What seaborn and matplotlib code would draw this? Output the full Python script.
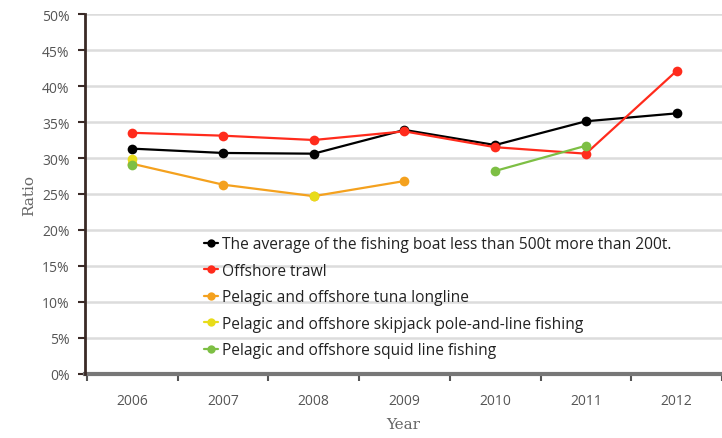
import numpy as np
import pandas as pd
import matplotlib
matplotlib.use('Agg')
import matplotlib.pyplot as plt
from matplotlib.lines import Line2D
from matplotlib.ticker import FuncFormatter, FixedLocator
import seaborn as sns

# -----------------------------------------------------------
# Data
# -----------------------------------------------------------
years = ['2006', '2007', '2008', '2009', '2010', '2011', '2012']

average_200_500t = [31.3, 30.7, 30.6, 33.9, 31.8, 35.1, 36.2]
offshore_trawl = [33.5, 33.1, 32.5, 33.7, 31.5, 30.6, 42.1]
tuna_longline = [29.2, 26.3, 24.7, 26.8, np.nan, np.nan, np.nan]
skipjack_pole_line = [29.9, np.nan, 24.7, np.nan, np.nan, np.nan, np.nan]
squid_line = [29.0, np.nan, np.nan, np.nan, 28.2, 31.7, np.nan]

series_names = [
    'The average of the fishing boat less than 500t more than 200t.',
    'Offshore trawl',
    'Pelagic and offshore tuna longline',
    'Pelagic and offshore skipjack pole-and-line fishing',
    'Pelagic and offshore squid line fishing',
]
series_values = [average_200_500t, offshore_trawl, tuna_longline,
                 skipjack_pole_line, squid_line]
series_colors = ['#000000', '#ff2b1c', '#f4a11e', '#e8dc1a', '#7dbf44']

# -----------------------------------------------------------
# Plot
# -----------------------------------------------------------
sns.set_style('white')
plt.rcParams['font.family'] = ['Open Sans', 'DejaVu Sans']

fig = plt.figure(figsize=(7.22, 4.39), dpi=100)
ax = fig.add_axes([85 / 722, 64 / 439, 637 / 722, 360 / 439])

x_pos = np.arange(len(years))
for name, vals, col in zip(series_names, series_values, series_colors):
    df = pd.DataFrame({'x': x_pos, 'y': vals})
    # split into contiguous runs so gaps are not bridged
    run_id = df['y'].isna().cumsum()
    for _, seg in df.dropna().groupby(run_id[df['y'].notna()]):
        sns.lineplot(data=seg, x='x', y='y', ax=ax, color=col, linewidth=1.6,
                     marker='o', markersize=7, markeredgewidth=0, zorder=3)

ax.set_ylim(0, 50)
ax.set_xlim(-0.52, 6.40)
ax.yaxis.set_major_locator(FixedLocator(np.arange(0, 51, 5)))
ax.yaxis.set_major_formatter(FuncFormatter(lambda v, p: f'{int(v)}%'))
ax.set_xticks(x_pos)
ax.set_xticklabels(years)
ax.set_xticks(np.arange(-0.5, 6.6, 1), minor=True)

ax.grid(axis='y', color='#dcdcdc', linewidth=1.8, zorder=0)
ax.set_axisbelow(True)

for s in ['top', 'right']:
    ax.spines[s].set_visible(False)
ax.spines['left'].set_color('#3a2a26')
ax.spines['left'].set_linewidth(2)
ax.spines['bottom'].set_color('#777777')
ax.spines['bottom'].set_linewidth(3)
ax.spines['left'].set_zorder(4)

ax.tick_params(axis='y', which='major', direction='out', length=5, width=1.5,
               color='#3a2a26', labelsize=10, labelcolor='#555555', pad=6, left=True)
ax.tick_params(axis='x', which='major', length=0, labelsize=10,
               labelcolor='#555555', pad=14)
ax.tick_params(axis='x', which='minor', direction='out', length=5, width=1.5,
               color='#555555', bottom=True)

ax.set_xlabel('Year', family='DejaVu Serif', fontsize=11, color='#666666', labelpad=6)
ax.set_ylabel('Ratio', family='DejaVu Serif', fontsize=11, color='#666666', labelpad=4)

handles = [Line2D([], [], color=c, marker='o', markersize=6, linewidth=1.6,
                  markeredgewidth=0) for c in series_colors]
leg = ax.legend(handles, series_names, loc='upper left',
                bbox_to_anchor=(0.174, 0.405), frameon=False, fontsize=11.2,
                handlelength=0.9, handletextpad=0.3, labelspacing=0.68,
                borderpad=0)
for t in leg.get_texts():
    t.set_color('#222222')

fig.savefig('out.png', dpi=100)
